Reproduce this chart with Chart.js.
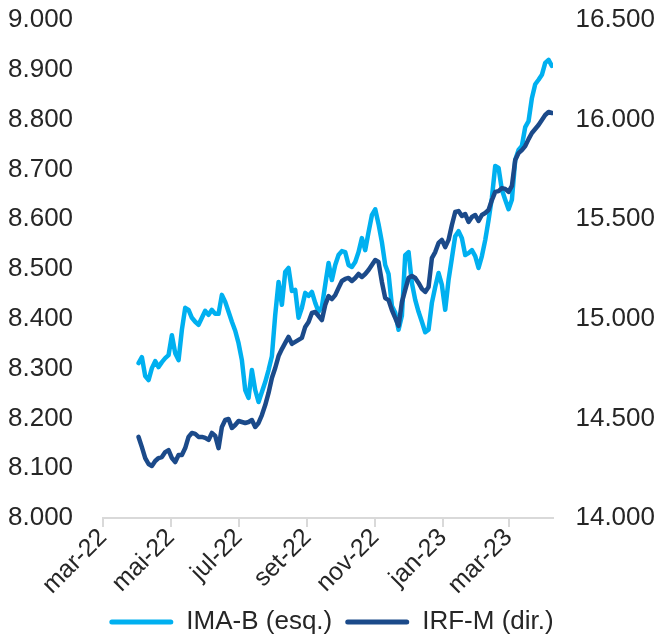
<!DOCTYPE html>
<html><head><meta charset="utf-8">
<script src="https://cdn.jsdelivr.net/npm/chart.js@4.4.1/dist/chart.umd.min.js"></script>
<style>html,body{margin:0;padding:0;background:#fff}#wrap{width:665px;height:637px;position:relative}</style>
</head><body><div id="wrap"><canvas id="c"></canvas></div>
<script>
const dates = [
'2022-04-02','2022-04-05','2022-04-08','2022-04-11','2022-04-14','2022-04-17','2022-04-20','2022-04-23','2022-04-26','2022-04-29',
'2022-05-02','2022-05-05','2022-05-08','2022-05-11','2022-05-14','2022-05-17','2022-05-20','2022-05-23','2022-05-26','2022-05-29',
'2022-06-01','2022-06-04','2022-06-07','2022-06-10','2022-06-13','2022-06-16','2022-06-19','2022-06-22','2022-06-25','2022-06-28',
'2022-07-01','2022-07-04','2022-07-07','2022-07-10','2022-07-13','2022-07-16','2022-07-19','2022-07-22','2022-07-25','2022-07-28',
'2022-07-31','2022-08-03','2022-08-06','2022-08-09','2022-08-12','2022-08-15','2022-08-18','2022-08-21','2022-08-24','2022-08-27',
'2022-08-30','2022-09-02','2022-09-05','2022-09-08','2022-09-11','2022-09-14','2022-09-17','2022-09-20','2022-09-23','2022-09-26',
'2022-09-29','2022-10-02','2022-10-05','2022-10-08','2022-10-11','2022-10-14','2022-10-17','2022-10-20','2022-10-23','2022-10-26',
'2022-10-29','2022-11-01','2022-11-04','2022-11-07','2022-11-10','2022-11-13','2022-11-16','2022-11-19','2022-11-22','2022-11-25',
'2022-11-28','2022-12-01','2022-12-04','2022-12-07','2022-12-10','2022-12-13','2022-12-16','2022-12-19','2022-12-22','2022-12-25',
'2022-12-28','2022-12-31','2023-01-03','2023-01-06','2023-01-09','2023-01-12','2023-01-15','2023-01-18','2023-01-21','2023-01-24',
'2023-01-27','2023-01-30','2023-02-02','2023-02-05','2023-02-08','2023-02-11','2023-02-14','2023-02-17','2023-02-20','2023-02-23',
'2023-02-26','2023-03-01','2023-03-04','2023-03-07','2023-03-10','2023-03-13','2023-03-16','2023-03-19','2023-03-22','2023-03-25',
'2023-03-28','2023-03-31','2023-04-03','2023-04-06','2023-04-09'
];
const imaB = [
8311,8323,8285,8277,8301,8315,8303,8313,8321,8327,
8367,8331,8317,8378,8422,8418,8402,8394,8388,8402,
8416,8408,8418,8410,8410,8448,8434,8414,8394,8376,
8351,8317,8257,8241,8297,8257,8233,8253,8273,8297,
8325,8408,8474,8428,8494,8502,8456,8458,8402,8422,
8452,8446,8454,8432,8414,8424,8468,8512,8478,8508,
8528,8536,8534,8508,8504,8514,8534,8562,8538,8574,
8608,8620,8590,8554,8508,8490,8426,8412,8378,8406,
8528,8534,8472,8438,8414,8394,8373,8378,8432,8464,
8492,8468,8418,8478,8522,8566,8576,8562,8528,8532,
8538,8526,8502,8526,8558,8598,8643,8707,8703,8659,
8639,8620,8639,8719,8739,8747,8785,8797,8843,8871,
8880,8890,8914,8920,8908
];
const irfM = [
14407,14356,14301,14271,14261,14286,14301,14306,14331,14341,
14301,14281,14316,14316,14351,14407,14427,14422,14407,14407,
14402,14392,14427,14412,14351,14457,14492,14497,14452,14467,
14487,14482,14477,14482,14492,14457,14477,14517,14567,14628,
14703,14753,14813,14848,14879,14909,14874,14884,14894,14904,
14959,14984,15029,15034,15014,14994,15069,15114,15099,15119,
15155,15190,15200,15205,15190,15205,15225,15210,15225,15245,
15270,15295,15285,15185,15104,15094,15044,15004,14964,15084,
15145,15205,15215,15205,15180,15150,15135,15160,15305,15335,
15381,15396,15360,15396,15471,15536,15541,15516,15526,15486,
15511,15521,15491,15521,15531,15546,15596,15637,15641,15656,
15652,15637,15667,15797,15832,15847,15867,15902,15933,15953,
15973,15998,16023,16038,16033
];
const monthTickDates = ['2022-03-01','2022-05-01','2022-07-01','2022-09-01','2022-11-01','2023-01-01','2023-03-01'];
const monthTickLabels = ['mar-22','mai-22','jul-22','set-22','nov-22','jan-23','mar-23'];
const axisStartDate = '2022-03-01';
const axisEndDate = '2023-04-10';
const seriesNames = ['IMA-B (esq.)','IRF-M (dir.)'];

function dayNum(s){
  const p = s.split('-').map(Number);
  const b = axisStartDate.split('-').map(Number);
  return Math.round((Date.UTC(p[0],p[1]-1,p[2]) - Date.UTC(b[0],b[1]-1,b[2]))/86400000);
}
function fmt(v){ return String(Math.round(v)).replace(/\B(?=(\d{3})+(?!\d))/g,'.'); }
const tickPos = monthTickDates.map(dayNum);
const FAM = "'Liberation Sans', Arial, sans-serif";
const FONT = {family:FAM, size:26};
const XFONT = {family:FAM, size:25};
const TXT = '#262626';
const C1 = '#00B0F0', C2 = '#1B4A8A';

new Chart(document.getElementById('c'), {
  type:'line',
  data:{datasets:[
    {label:seriesNames[0], data:dates.map((d,i)=>({x:dayNum(d),y:imaB[i]})), borderColor:C1, backgroundColor:C1, borderWidth:4.5, pointRadius:0, tension:0, yAxisID:'yL', order:2, borderJoinStyle:'round', borderCapStyle:'round'},
    {label:seriesNames[1], data:dates.map((d,i)=>({x:dayNum(d),y:irfM[i]})), borderColor:C2, backgroundColor:C2, borderWidth:4.5, pointRadius:0, tension:0, yAxisID:'yR', order:1, borderJoinStyle:'round', borderCapStyle:'round'}
  ]},
  options:{
    responsive:true, maintainAspectRatio:false, animation:false,
    layout:{padding:{top:20,left:8,right:10,bottom:-8}},
    plugins:{
      tooltip:{enabled:false},
      legend:{position:'bottom', labels:{
        boxWidth:64, boxHeight:5, padding:13, color:TXT, font:FONT, useBorderRadius:true, borderRadius:2.5,
        sort:(a,b)=>a.datasetIndex-b.datasetIndex,
        generateLabels:(chart)=>Chart.defaults.plugins.legend.labels.generateLabels(chart).map(l=>Object.assign(l,{lineWidth:0}))
      }}
    },
    scales:{
      x:{type:'linear', min:0, max:dayNum(axisEndDate),
        afterBuildTicks:(s)=>{ s.ticks = tickPos.map(v=>({value:v})); },
        ticks:{autoSkip:false, minRotation:45, maxRotation:45, padding:-4, color:TXT, font:XFONT,
          callback:(v)=>{ const i = tickPos.indexOf(v); return i>=0 ? monthTickLabels[i] : ''; }},
        grid:{display:true, drawOnChartArea:false, drawTicks:true, tickLength:9, color:'#d9d9d9', lineWidth:2},
        border:{display:true, color:'#d9d9d9', width:2},
        afterFit:(s)=>{ s.height = 78; }
      },
      yL:{position:'left', min:8000, max:9000,
        ticks:{stepSize:100, callback:fmt, padding:0, crossAlign:'far', color:TXT, font:FONT},
        grid:{display:false, drawTicks:false}, border:{display:false},
        afterFit:(s)=>{ s.width = 95; }
      },
      yR:{position:'right', min:14000, max:16500,
        ticks:{stepSize:500, callback:fmt, padding:0, crossAlign:'far', color:TXT, font:FONT},
        grid:{display:false, drawTicks:false}, border:{display:false},
        afterFit:(s)=>{ s.width = 102; }
      }
    }
  }
});
</script>
</body></html>
